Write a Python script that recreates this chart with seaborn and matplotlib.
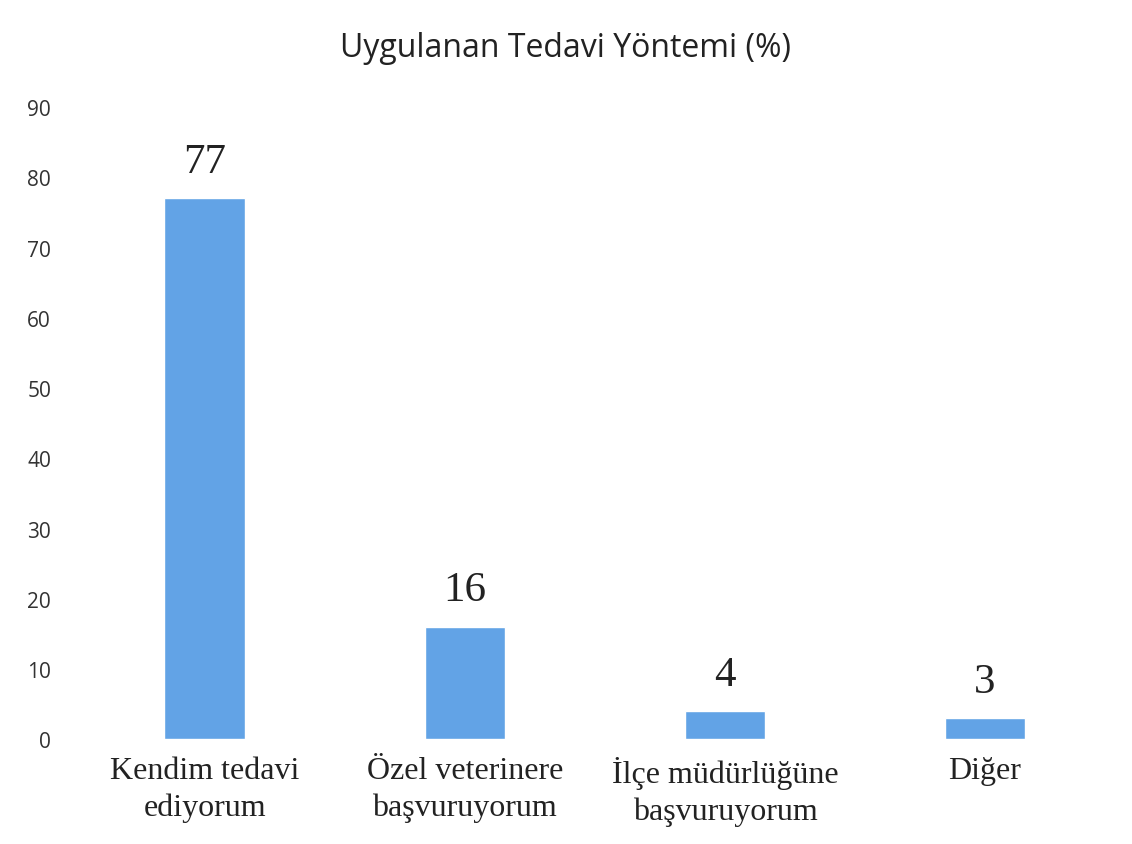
import matplotlib
matplotlib.use("Agg")
import matplotlib.pyplot as plt
import seaborn as sns
import pandas as pd

categories = ["Kendim tedavi\nediyorum", "Özel veterinere\nbaşvuruyorum",
              "İlçe müdürlüğüne\nbaşvuruyorum", "Diğer"]
values = [77, 16, 4, 3]
yticks = [0, 10, 20, 30, 40, 50, 60, 70, 80, 90]

df = pd.DataFrame({"yontem": categories, "yuzde": values})

sns.set_style("white")
fig = plt.figure(figsize=(11.32, 8.45), dpi=100)
ax = fig.add_axes([0.066, 0.124, 0.919, 0.748])

sns.barplot(data=df, x="yontem", y="yuzde", color="#62A3E6", width=0.31,
            saturation=1, ax=ax)

for i, v in enumerate(values):
    ax.text(i, v + 2.5, str(v), ha="center", va="bottom",
            family="Liberation Serif", fontsize=31, color="#222222")

ax.set_ylim(0, 90)
ax.set_yticks(yticks)
ax.set_yticklabels([str(t) for t in yticks], family="Open Sans", fontsize=15, color="#333333")
ax.tick_params(axis="y", length=0, pad=17)
ax.tick_params(axis="x", length=0, pad=12)
for lab in ax.get_xticklabels():
    lab.set_family("Liberation Serif")
    lab.set_fontsize(23)
    lab.set_color("#222222")
    lab.set_linespacing(1.35)
ax.set_xlabel("")
ax.set_ylabel("")
sns.despine(left=True, bottom=True)

fig.text(0.5, 0.943, "Uygulanan Tedavi Yöntemi (%)", ha="center", va="center",
         family="Open Sans", fontsize=23, color="#222222")

fig.savefig("out.png", dpi=100)
